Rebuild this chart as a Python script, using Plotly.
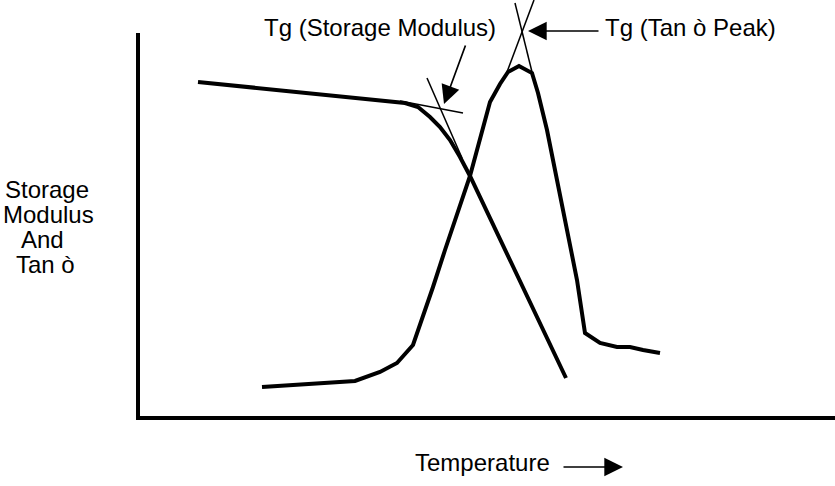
import plotly.graph_objects as go

# ---- data (x: temperature units, y: modulus / tan-delta units) ----
storage_temp = [61, 163, 268, 281, 293, 303, 313, 323, 333, 429]
storage_modulus = [334, 324, 313, 309, 299, 289, 276, 259, 240, 38]

tan_temp = [125, 183, 218, 243, 260, 276, 286, 296, 308, 333, 353, 363, 371,
            382, 395, 401, 410, 440, 448, 463, 480, 493, 506, 523]
tan_delta = [29, 33, 35, 44, 53, 71, 99, 129, 166, 240, 314, 332, 344,
             350, 343, 323, 286, 136, 83, 73, 69, 69, 66, 63]

# tangent construction lines
sm_flat_x, sm_flat_y = [263, 326], [315, 303]
sm_steep_x, sm_steep_y = [290, 325], [338, 258]
tan_left_x, tan_left_y = [370, 397], [344, 416]
tan_right_x, tan_right_y = [395, 378], [344, 413]

label_sm = "Tg (Storage Modulus)"
label_tan = "Tg (Tan ò Peak)"
label_x = "Temperature"
label_y = ["Storage", "Modulus", "And", "Tan ò"]

W, H = 835, 486
L, B, T = 137, 70, 33  # frame offsets in px

FONT = "Liberation Sans, Arial, sans-serif"

fig = go.Figure()

# empty trace for frame axes
fig.add_trace(go.Scatter(x=[], y=[], xaxis="x", yaxis="y", showlegend=False))

thick = dict(color="black", width=4)
thin = dict(color="black", width=1.5)

fig.add_trace(go.Scatter(x=storage_temp, y=storage_modulus, mode="lines",
                         line=thick, xaxis="x2", yaxis="y2", showlegend=False))
fig.add_trace(go.Scatter(x=tan_temp, y=tan_delta, mode="lines",
                         line=thick, xaxis="x2", yaxis="y2", showlegend=False))
for xs, ys in [(sm_flat_x, sm_flat_y), (sm_steep_x, sm_steep_y),
               (tan_left_x, tan_left_y), (tan_right_x, tan_right_y)]:
    fig.add_trace(go.Scatter(x=xs, y=ys, mode="lines", line=thin,
                             xaxis="x2", yaxis="y2", showlegend=False))

ann = []
tf = dict(family=FONT, size=24, color="black")
ann.append(dict(x=243, y=389, text=label_sm, showarrow=False, font=tf,
                xanchor="center", yanchor="middle"))
ann.append(dict(x=553, y=389, text=label_tan, showarrow=False, font=tf,
                xanchor="center", yanchor="middle"))
ann.append(dict(x=345, y=-46, text=label_x, showarrow=False, font=tf,
                xanchor="center", yanchor="middle"))
for (lx, ly), t in zip([(-90, 227), (-89, 202), (-95, 177), (-92, 152)], label_y):
    ann.append(dict(x=lx, y=ly, text=t, showarrow=False, font=tf,
                    xanchor="center", yanchor="middle"))

arrow = dict(text="", showarrow=True, arrowhead=2, arrowsize=2.2, arrowwidth=1.7,
             arrowcolor="black", axref="x2", ayref="y2", standoff=0)
ann.append(dict(x=307, y=312, ax=329, ay=372, **arrow))
ann.append(dict(x=391, y=385, ax=463, ay=385, **arrow))
ann.append(dict(x=486, y=-51, ax=425, ay=-51, **arrow))
for a in ann:
    a["xref"] = "x2"
    a["yref"] = "y2"

fig.update_layout(
    width=W, height=H,
    margin=dict(l=0, r=0, t=0, b=0),
    paper_bgcolor="white", plot_bgcolor="rgba(0,0,0,0)",
    xaxis=dict(domain=[(L + 3) / W, 1], range=[3, W - L], showline=True, linewidth=4,
               linecolor="black", showgrid=False, zeroline=False,
               showticklabels=False, ticks="", anchor="y", fixedrange=True),
    yaxis=dict(domain=[B / H, (H - T) / H], range=[0, H - B - T], showline=True,
               linewidth=4, linecolor="black", showgrid=False, zeroline=False,
               showticklabels=False, ticks="", anchor="x", fixedrange=True),
    xaxis2=dict(domain=[0, 1], range=[-L, W - L], visible=False, anchor="y2"),
    yaxis2=dict(domain=[0, 1], range=[-B, H - B], visible=False, anchor="x2"),
    annotations=ann,
    showlegend=False,
)

fig.write_html("out.html")
